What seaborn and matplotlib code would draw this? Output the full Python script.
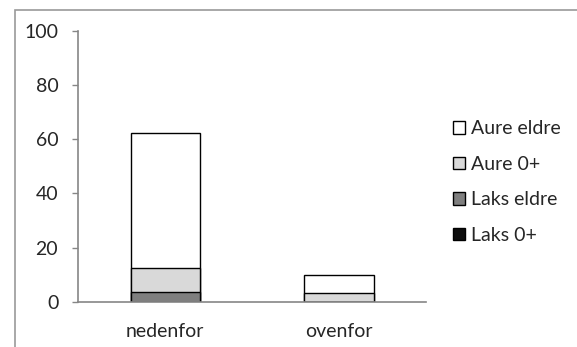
import matplotlib
matplotlib.use("Agg")
import matplotlib.pyplot as plt
from matplotlib.patches import Rectangle
import numpy as np
import seaborn as sns

# Fish counts per site, by species and age group
sites = ["nedenfor", "ovenfor"]
laks_0 = [0.0, 0.0]
laks_eldre = [3.7, 0.0]
aure_0 = [8.7, 3.1]
aure_eldre = [50.1, 6.7]

series_names = ["Laks 0+", "Laks eldre", "Aure 0+", "Aure eldre"]
series_vals = [laks_0, laks_eldre, aure_0, aure_eldre]
series_colors = ["#0d0d0d", "#7f7f7f", "#d9d9d9", "#ffffff"]
yticks = [0, 20, 40, 60, 80, 100]

FS = 14
sns.set_style("white")
plt.rcParams["font.family"] = ["Lato", "DejaVu Sans"]
plt.rcParams["font.size"] = FS

W, H = 577, 347
fig = plt.figure(figsize=(W / 100, H / 100), dpi=100)
ax = fig.add_axes([78.4 / W, 1 - 301.7 / H, (426 - 78.4) / W, (301.7 - 31) / H])

# Stack by drawing cumulative totals, tallest first
cum = np.cumsum(np.array(series_vals), axis=0)
for i in range(len(series_names) - 1, -1, -1):
    sns.barplot(x=sites, y=cum[i], color=series_colors[i], saturation=1,
                width=0.4, edgecolor="black", linewidth=1.0,
                label=series_names[i], ax=ax, zorder=1)

ax.set_xlim(-0.5, 1.5)
ax.set_ylim(0, 100)
ax.set_yticks(yticks)
ax.set_yticklabels([str(t) for t in yticks])
ax.set_xlabel("")
ax.set_ylabel("")

spine_col = "#868686"
for s in ["top", "right"]:
    ax.spines[s].set_visible(False)
for s in ["left", "bottom"]:
    ax.spines[s].set_color(spine_col)
    ax.spines[s].set_linewidth(1.2)
    ax.spines[s].set_zorder(5)

ax.set_xticks([-0.5, 0.5, 1.5], minor=True)
ax.tick_params(axis="x", which="major", length=0, pad=15, labelsize=FS)
ax.tick_params(axis="x", which="minor", length=4.5, width=1, color=spine_col, direction="out")
ax.tick_params(axis="y", which="major", length=4.5, width=1, color=spine_col,
               direction="out", pad=10, labelsize=FS, left=True)

# Legend: top entry first
handles, labels = ax.get_legend_handles_labels()
if ax.legend_:
    ax.legend_.remove()
fig.legend(handles, labels, loc="center left", bbox_to_anchor=(453 / W, 1 - 182 / H),
           frameon=False, borderpad=0, borderaxespad=0, handlelength=0.62,
           handleheight=0.62, handletextpad=0.3, labelspacing=0.95, fontsize=FS)

# Outer chart-area frame
fig.add_artist(Rectangle((14.5 / W, -0.05), 1.1, 1 - 9.5 / H + 0.05,
                         transform=fig.transFigure, fill=False,
                         edgecolor="#9a9a9a", linewidth=1.2))

fig.savefig("out.png", dpi=100)
